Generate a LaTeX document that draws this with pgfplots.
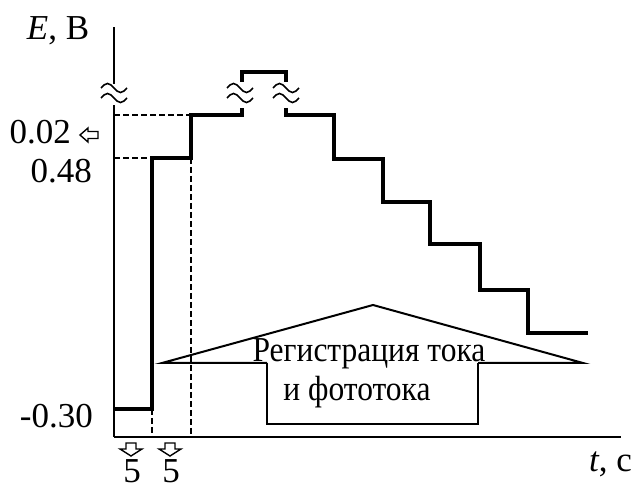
\documentclass[border=0pt]{standalone}
\usepackage{fontspec}
\setmainfont{Liberation Serif}
\newfontfamily\condfont[FakeStretch=0.9]{Liberation Serif}
\usepackage{pgfplots}
\pgfplotsset{compat=1.18}
\newcommand{\lbl}{\fontsize{35}{38}\selectfont}
\newcommand{\txt}{\condfont\fontsize{35}{38}\selectfont}
\begin{document}
\begin{tikzpicture}
\begin{axis}[hide axis, scale only axis, width=633pt, height=491pt,
  xmin=0, xmax=633, ymin=0, ymax=491, clip=false]
% axes
\addplot[black, line width=2pt] coordinates {(114,54) (621,54)};
\addplot[black, line width=2pt] coordinates {(114,54) (114,386)};
\addplot[black, line width=1.6pt] coordinates {(114,407) (114,464)};
% dashed guides
\addplot[black, line width=1.4pt, dash pattern=on 6pt off 3pt] coordinates {(114,376) (191,376)};
\addplot[black, line width=1.4pt, dash pattern=on 6pt off 3pt] coordinates {(114,333) (152,333)};
\addplot[black, line width=1.4pt, dash pattern=on 6pt off 3pt] coordinates {(152,82) (152,54)};
\addplot[black, line width=1.4pt, dash pattern=on 6pt off 3pt] coordinates {(191,333) (191,54)};
% potential program (steps)
\addplot[black, line width=3.2pt, line join=miter] coordinates {
 (114,82) (152,82) (152,333) (191,333) (191,376) (242,376) (242,383)};
\addplot[black, line width=3.2pt, line join=miter] coordinates {
 (242,409) (242,419) (286,419) (286,409)};
\addplot[black, line width=3.2pt, line join=miter] coordinates {
 (286,383) (286,376) (334,376) (334,332) (383,332) (383,289) (430,289)
 (430,247) (480,247) (480,201) (528,201) (528,158) (588,158)};
% triangle and box
\addplot[black, line width=2pt] coordinates {(267,128) (162,128) (373,186) (583,128) (478,128)};
\addplot[black, line width=2pt] coordinates {(267,128) (267,67) (478,67) (478,128)};
% break marks
\foreach \cx in {114,240,286} {
  \foreach \cy in {403,393} {
    \edef\temp{\noexpand\begin{scope}[shift={(axis cs:\cx,\cy)}]
      \noexpand\draw[line width=1.6pt] (-13pt,0pt) sin (-6.5pt,4.5pt) cos (0pt,0pt) sin (6.5pt,-4.5pt) cos (13pt,0pt);
    \noexpand\end{scope}}
    \temp
  }
}
% hollow arrows
\begin{scope}[shift={(axis cs:131,0)}]
\draw[line width=1.4pt, fill=white] (-5pt,48pt) -- (5pt,48pt) -- (5pt,42pt) -- (11pt,42pt) -- (0pt,35pt) -- (-11pt,42pt) -- (-5pt,42pt) -- cycle;
\end{scope}
\begin{scope}[shift={(axis cs:170,0)}]
\draw[line width=1.4pt, fill=white] (-5pt,48pt) -- (5pt,48pt) -- (5pt,42pt) -- (11pt,42pt) -- (0pt,35pt) -- (-11pt,42pt) -- (-5pt,42pt) -- cycle;
\end{scope}
\begin{scope}[shift={(axis cs:0,356)}]
\draw[line width=1.4pt, fill=white] (98pt,-3.5pt) -- (98pt,3.5pt) -- (88pt,3.5pt) -- (88pt,7pt) -- (80pt,0pt) -- (88pt,-7pt) -- (88pt,-3.5pt) -- cycle;
\end{scope}
% labels
\node[anchor=base, inner sep=0, font=\lbl] at (axis cs:58,451) {\textit{E}, В};
\node[anchor=base east, inner sep=0, font=\lbl] at (axis cs:71,347) {0.02};
\node[anchor=base east, inner sep=0, font=\lbl] at (axis cs:92,308) {0.48};
\node[anchor=base east, inner sep=0, font=\lbl] at (axis cs:93,63) {-0.30};
\node[anchor=base, inner sep=0, font=\lbl] at (axis cs:132,8) {5};
\node[anchor=base, inner sep=0, font=\lbl] at (axis cs:171,8) {5};
\node[anchor=base east, inner sep=0, font=\lbl] at (axis cs:632,19) {\textit{t}, с};
\node[anchor=base, inner sep=0, font=\txt] at (axis cs:369,129) {Регистрация тока};
\node[anchor=base, inner sep=0, font=\txt] at (axis cs:357,90) {и фототока};
\end{axis}
\pgfresetboundingbox
\path (0,0) rectangle (633pt,491pt);
\end{tikzpicture}
\end{document}
